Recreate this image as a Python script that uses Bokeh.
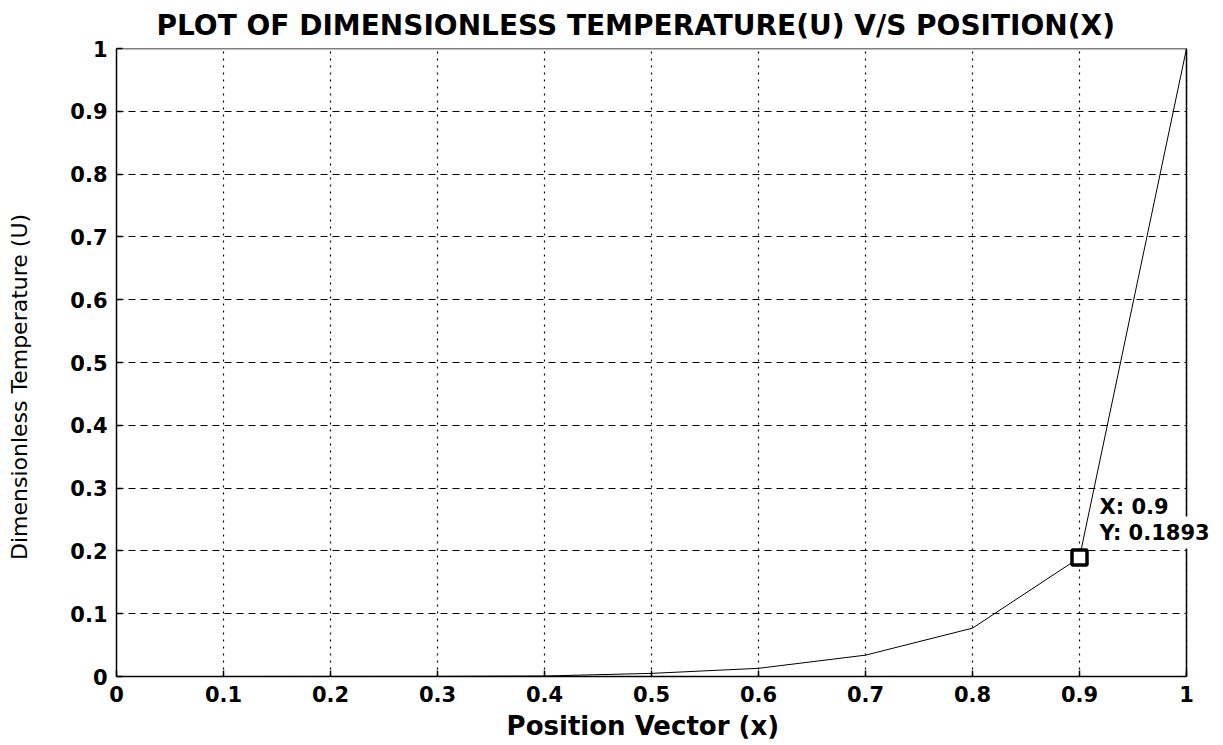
from bokeh.plotting import figure
from bokeh.models import Range1d, FixedTicker, Label
from bokeh.embed import file_html
from bokeh.resources import INLINE

# Nodal solution of the dimensionless temperature along the rod
x_pos = [0.0, 0.1, 0.2, 0.3, 0.4, 0.5, 0.6, 0.7, 0.8, 0.9, 1.0]
u_temp = [0.0, 0.0, 0.0001, 0.0002, 0.0008, 0.005, 0.013, 0.034, 0.077, 0.1893, 1.0]

# Highlighted node
tip_x = 0.9
tip_y = 0.1893

tick_values = [0.0, 0.1, 0.2, 0.3, 0.4, 0.5, 0.6, 0.7, 0.8, 0.9, 1.0]
tick_labels = ["0", "0.1", "0.2", "0.3", "0.4", "0.5", "0.6", "0.7", "0.8", "0.9", "1"]

FONT = "DejaVu Sans"
NBSP = "\u00a0"

# axes box limits; the x range runs a little past the box so the
# data tip can sit over the right edge of the box
X0, X1 = 0.0, 1.0
Y0, Y1 = 0.0, 1.0
X_VIEW_END = X1 + 37 / 1070

p = figure(
    width=1223, height=745,
    x_range=Range1d(X0, X_VIEW_END), y_range=Range1d(Y0, Y1),
    output_backend="svg", toolbar_location=None,
    min_border_left=116, min_border_right=0,
    min_border_top=48, min_border_bottom=69,
)
p.background_fill_color = "white"
p.border_fill_color = "white"
p.outline_line_color = None

p.title.text = "PLOT OF DIMENSIONLESS TEMPERATURE(U) V/S POSITION(X)"
p.title.text_font = FONT
p.title.text_font_size = "28px"
p.title.text_font_style = "bold"
p.title.align = "left"
p.title.offset = 40
p.title.standoff = 13
p.title.text_color = "black"

overrides = {v: s for v, s in zip(tick_values, tick_labels)}
for ax in (p.xaxis[0], p.yaxis[0]):
    ax.ticker = FixedTicker(ticks=tick_values)
    ax.major_label_overrides = overrides
    ax.major_label_text_font = FONT
    ax.major_label_text_font_size = "21px"
    ax.major_label_text_font_style = "bold"
    ax.major_label_text_color = "black"
    ax.major_tick_in = 6
    ax.major_tick_out = 0
    ax.major_tick_line_color = "black"
    ax.major_tick_line_width = 1.5
    ax.minor_tick_line_color = None
    ax.axis_line_color = "black"
    ax.axis_line_width = 1.5
    ax.major_label_standoff = 9
p.xaxis.bounds = (X0, X1)

# trailing no-break spaces keep the axis titles centred on the box
# rather than on the wider frame
p.xaxis.axis_label = "Position Vector (x)" + NBSP * 6
p.xaxis.axis_label_text_font = FONT
p.xaxis.axis_label_text_font_size = "26px"
p.xaxis.axis_label_text_font_style = "bold"
p.xaxis.axis_label_text_color = "black"
p.xaxis.axis_label_standoff = 6

p.yaxis.axis_label = "Dimensionless Temperature (U)" + NBSP * 7
p.yaxis.axis_label_text_font = FONT
p.yaxis.axis_label_text_font_size = "22px"
p.yaxis.axis_label_text_font_style = "normal"
p.yaxis.axis_label_text_color = "black"
p.yaxis.axis_label_standoff = 35

p.xgrid.grid_line_color = "black"
p.xgrid.grid_line_dash = "2 5"
p.xgrid.grid_line_width = 1.2
p.ygrid.grid_line_color = "black"
p.ygrid.grid_line_dash = "7 5"
p.ygrid.grid_line_width = 1.2
p.ygrid.cross_bounds = (X0, X1)

# top and right edges of the axes box
p.segment(x0=[X0, X1], y0=[Y1, Y0], x1=[X1, X1], y1=[Y1, Y1],
          line_color="black", line_width=1.5)

p.line(x_pos, u_temp, line_color="black", line_width=1)

p.scatter([tip_x], [tip_y], marker="square", size=15,
          fill_color="white", line_color="black", line_width=3.5)

for txt, dy in (("X: 0.9", 51), ("Y: 0.1893", 25)):
    p.add_layout(Label(
        x=tip_x, y=tip_y, x_offset=16, y_offset=dy,
        text=txt, text_font=FONT, text_font_size="21px",
        text_font_style="bold", text_color="black",
        text_baseline="middle", text_align="left",
        background_fill_color="white", padding=4,
    ))

open("out.html", "w").write(file_html(p, INLINE))
